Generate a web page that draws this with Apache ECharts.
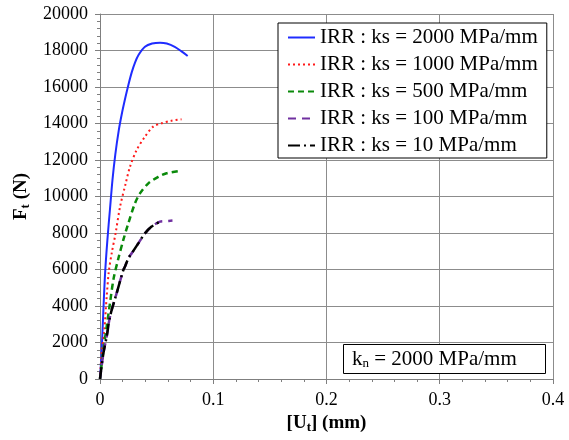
<!DOCTYPE html>
<html>
<head>
<meta charset="utf-8">
<script src="https://cdn.jsdelivr.net/npm/echarts@6/dist/echarts.min.js"></script>
<style>html,body{margin:0;padding:0;background:#fff;}#c{width:569px;height:440px;}</style>
</head>
<body>
<div id="c"></div>
<script>
const seriesNames = ['IRR : ks = 2000 MPa/mm','IRR : ks = 1000 MPa/mm','IRR : ks = 500 MPa/mm','IRR : ks = 100 MPa/mm','IRR : ks = 10 MPa/mm'];

const ks2000_x = [0,0.0015,0.003,0.0045,0.0065,0.0088,0.011,0.0135,0.0165,0.0195,0.0225,0.025,0.028,0.031,0.034,0.0397,0.046,0.053,0.059,0.066,0.072,0.0774];
const ks2000_y = [0,1600,3800,5800,7600,9300,10900,12300,13600,14600,15450,16100,16800,17350,17750,18200,18380,18430,18380,18200,17950,17700];

const ks1000_x = [0,0.0015,0.0038,0.0059,0.0078,0.0105,0.0138,0.0177,0.0227,0.0265,0.0324,0.0397,0.047,0.0544,0.063,0.072];
const ks1000_y = [0,1420,2680,4510,5900,6950,8000,9440,10720,11630,12550,13280,13830,14010,14150,14230];

const ks500_x = [0,0.003,0.0059,0.0088,0.012,0.0162,0.0206,0.025,0.0309,0.0353,0.0427,0.0515,0.0588,0.0706];
const ks500_y = [0,1590,2870,4150,5500,6600,7620,8530,9630,10170,10720,11080,11270,11400];

const ks100_x = [0,0.003,0.0059,0.0088,0.0147,0.0206,0.022,0.025,0.028,0.0338,0.0397,0.0456,0.053,0.058,0.064];
const ks100_y = [0,1410,2320,3410,4700,5970,6150,6610,6890,7430,7980,8350,8620,8650,8680];

const ks10_x = [0,0.003,0.0059,0.0088,0.0147,0.0206,0.022,0.025,0.028,0.0338,0.0397,0.0456,0.053];
const ks10_y = [0,1410,2320,3410,4700,5970,6150,6610,6890,7430,7980,8350,8620];

const xTicks = [0,0.1,0.2,0.3,0.4];
const yTicks = [0,2000,4000,6000,8000,10000,12000,14000,16000,18000,20000];

function zip(xs, ys){ return xs.map((x,i)=>[x, ys[i]]); }

const FONT = '"Liberation Serif", "Times New Roman", serif';
const chart = echarts.init(document.getElementById('c'), null, {renderer:'canvas'});

const styles = [
  {color:'#1f2cff', type:'solid', width:2},
  {color:'#ff1a1a', type:[2,3], width:2},
  {color:'#0a8a0a', type:[6,4], width:2.5},
  {color:'#7030a0', type:[8,6], width:2.5},
  {color:'#000000', type:[12,4,2,4], width:2.5}
];
const datas = [zip(ks2000_x,ks2000_y), zip(ks1000_x,ks1000_y), zip(ks500_x,ks500_y), zip(ks100_x,ks100_y), zip(ks10_x,ks10_y)];

chart.setOption({
  animation:false,
  backgroundColor:'#fff',
  textStyle:{fontFamily:FONT},
  grid:{left:100, right:16, top:14, bottom:61, containLabel:false},
  xAxis:{
    type:'value', min:0, max:0.4, interval:0.1,
    name:'{b|[U}{s|t}{b|] (mm)}',
    nameLocation:'middle', nameGap:33,
    nameTextStyle:{rich:{
      b:{fontFamily:FONT, fontSize:19, fontWeight:'bold', color:'#000', lineHeight:22},
      s:{fontFamily:FONT, fontSize:13, fontWeight:'bold', color:'#000', lineHeight:13, verticalAlign:'bottom', padding:[4,0,0,0]}
    }},
    axisLine:{show:true, lineStyle:{color:'#7f7f7f', width:1}},
    axisTick:{show:true, inside:false, length:5, lineStyle:{color:'#7f7f7f'}},
    minorTick:{show:true, splitNumber:5, length:3, lineStyle:{color:'#7f7f7f'}},
    splitLine:{show:true, lineStyle:{color:'#8c8c8c', width:1}},
    axisLabel:{fontFamily:FONT, fontSize:18, color:'#000', margin:12,
      formatter:function(v){ return xTicks.indexOf(Math.round(v*10)/10) >= 0 ? String(Math.round(v*10)/10) : ''; }}
  },
  yAxis:{
    type:'value', min:0, max:20000, interval:2000,
    name:'{b|F}{s|t}{b| (N)}',
    nameLocation:'middle', nameGap:66, nameRotate:90,
    nameTextStyle:{rich:{
      b:{fontFamily:FONT, fontSize:19, fontWeight:'bold', color:'#000', lineHeight:22},
      s:{fontFamily:FONT, fontSize:13, fontWeight:'bold', color:'#000', lineHeight:13, verticalAlign:'bottom', padding:[4,0,0,0]}
    }},
    axisLine:{show:true, lineStyle:{color:'#7f7f7f', width:1}},
    axisTick:{show:true, inside:false, length:5, lineStyle:{color:'#7f7f7f'}},
    minorTick:{show:true, splitNumber:5, length:3, lineStyle:{color:'#7f7f7f'}},
    splitLine:{show:true, lineStyle:{color:'#8c8c8c', width:1}},
    axisLabel:{fontFamily:FONT, fontSize:18, color:'#000', margin:12,
      formatter:function(v){ return yTicks.indexOf(v) >= 0 ? String(v) : ''; }}
  },
  legend:{
    show:true,
    orient:'vertical', left:278, top:23,
    data:seriesNames,
    backgroundColor:'#fff', borderColor:'#000', borderWidth:1,
    padding:[4,9,2,9], itemGap:6, itemWidth:27, itemHeight:14,
    itemStyle:{color:'rgba(0,0,0,0)', borderColor:'rgba(0,0,0,0)', borderWidth:0, opacity:0},
    textStyle:{fontFamily:FONT, fontSize:21, color:'#000', lineHeight:21},
    selectedMode:false
  },
  title:{
    text:'{a|k}{s|n}{a| = 2000 MPa/mm}',
    left:343, top:344,
    backgroundColor:'#fff', borderColor:'#000', borderWidth:1,
    padding:[4,29,4,9],
    textStyle:{fontWeight:'normal', rich:{
      a:{fontFamily:FONT, fontSize:21, fontWeight:'normal', color:'#000', lineHeight:22},
      s:{fontFamily:FONT, fontSize:13, fontWeight:'normal', color:'#000', lineHeight:13, verticalAlign:'bottom', padding:[4,0,0,0]}
    }}
  },
  series: datas.map((d,i)=>({
    name:seriesNames[i], type:'line', data:d, showSymbol:false, symbol:'none', smooth:0.3,
    lineStyle:{color:styles[i].color, type:styles[i].type, width:styles[i].width},
    itemStyle:{color:styles[i].color},
    z:2+i
  }))
});
</script>
</body>
</html>
